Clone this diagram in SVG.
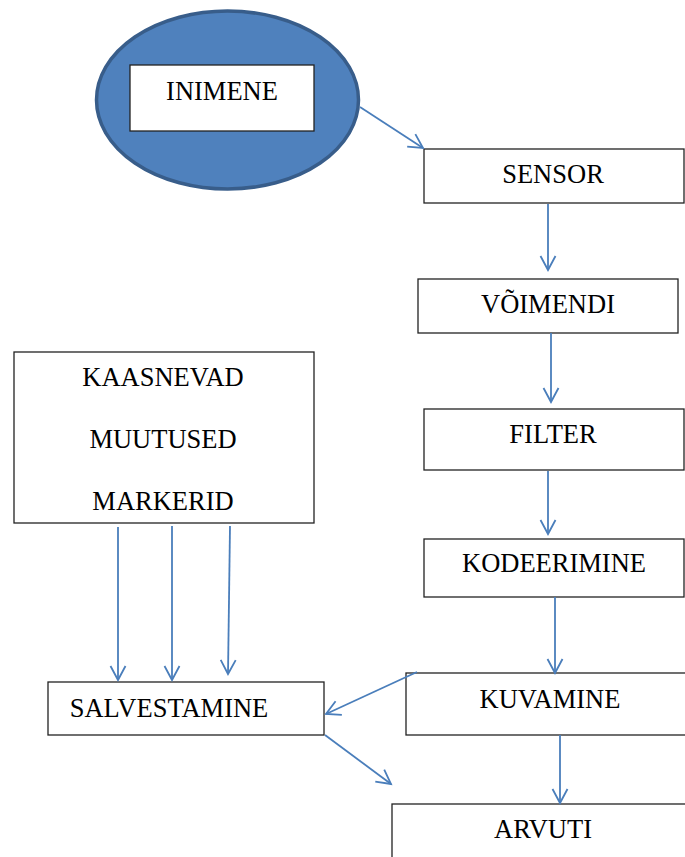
<svg xmlns="http://www.w3.org/2000/svg" width="685" height="857" viewBox="0 0 685 857">
<defs>
<style>
.box{fill:#fff;stroke:#222;stroke-width:1.3}
.t{font-family:"Liberation Serif","Times New Roman",serif;font-size:26.5px;fill:#000;text-anchor:middle}
.c{fill:none;stroke:#4a7ebb;stroke-width:1.8;marker-end:url(#ah)}
</style>
<marker id="ah" markerUnits="userSpaceOnUse" markerWidth="30" markerHeight="30" viewBox="-15 -15 30 30" refX="0" refY="0" orient="auto">
<path d="M-14,-7.5 L0,0 L-14,7.5" fill="none" stroke="#4a7ebb" stroke-width="1.8"/>
</marker>
</defs>
<rect width="685" height="857" fill="#fff"/>
<g id="inimene">
<ellipse cx="227.5" cy="100" rx="131" ry="89" fill="#4f81bd" stroke="#385d8a" stroke-width="3.5"/>
<rect class="box" x="130" y="65" width="184" height="66"/>
<text class="t" x="222" y="100">INIMENE</text>
</g>
<g id="sensor">
<rect class="box" x="424" y="149" width="260" height="54"/>
<text class="t" x="553" y="183">SENSOR</text>
</g>
<g id="voimendi">
<rect class="box" x="418" y="279" width="260" height="54"/>
<text class="t" x="548" y="313">VÕIMENDI</text>
</g>
<g id="filter">
<rect class="box" x="424" y="409" width="260" height="61"/>
<text class="t" x="553" y="443">FILTER</text>
</g>
<g id="kodeerimine">
<rect class="box" x="424" y="539" width="260" height="58"/>
<text class="t" x="554" y="572">KODEERIMINE</text>
</g>
<g id="kuvamine">
<rect class="box" x="406" y="673" width="290" height="62"/>
<text class="t" x="550" y="708">KUVAMINE</text>
</g>
<g id="arvuti">
<rect class="box" x="392" y="804" width="300" height="70"/>
<text class="t" x="543" y="838">ARVUTI</text>
</g>
<g id="kaasnevad">
<rect class="box" x="14" y="352" width="300" height="171"/>
<text class="t" x="163" y="386">KAASNEVAD</text>
<text class="t" x="163" y="448">MUUTUSED</text>
<text class="t" x="163" y="510">MARKERID</text>
</g>
<g id="salvestamine">
<rect class="box" x="48" y="682" width="276" height="53"/>
<text class="t" x="169" y="717">SALVESTAMINE</text>
</g>
<g id="connectors">
<path class="c" d="M360,107 L423,148"/>
<path class="c" d="M548,204 L548,270"/>
<path class="c" d="M551,333 L551,402"/>
<path class="c" d="M548,471 L548,534"/>
<path class="c" d="M555,597 L555,673"/>
<path class="c" d="M560,735 L560,803"/>
<path class="c" d="M417,672 L326,714"/>
<path class="c" d="M325,735 L391,784"/>
<path class="c" d="M118,527 L118,680"/>
<path class="c" d="M172,526 L172,680"/>
<path class="c" d="M230,526 L228,674"/>
</g>
</svg>
